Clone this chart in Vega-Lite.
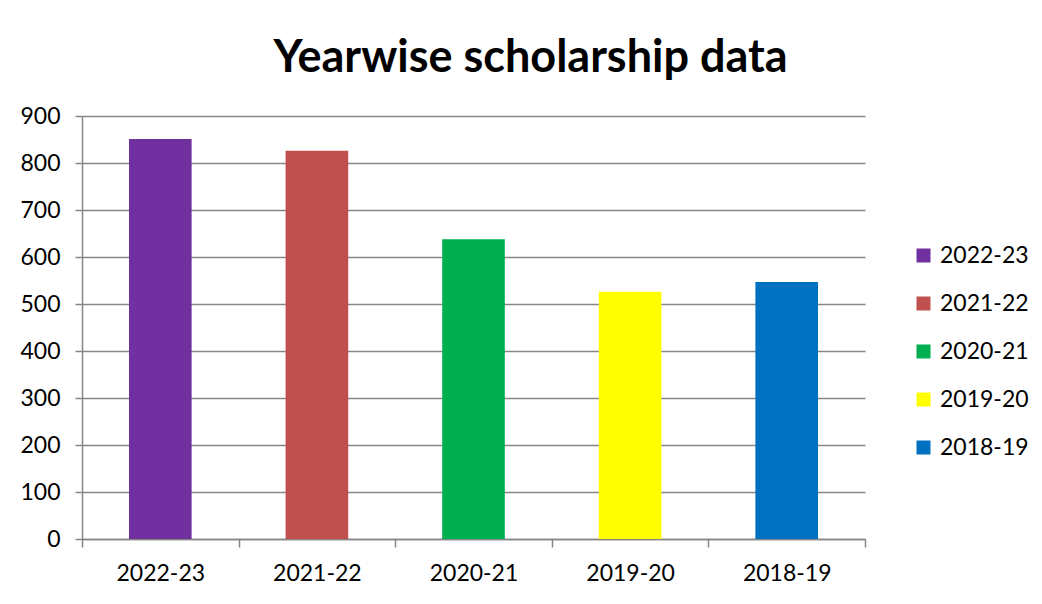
{
  "$schema": "https://vega.github.io/schema/vega-lite/v6.json",
  "width": 783,
  "height": 423,
  "autosize": {"type": "none"},
  "padding": {"left": 82, "top": 116, "right": 177, "bottom": 65},
  "background": "white",
  "title": {
    "text": "Yearwise scholarship data",
    "font": "Lato",
    "fontSize": 45,
    "fontWeight": "bold",
    "color": "black",
    "anchor": "middle",
    "frame": "group",
    "baseline": "alphabetic",
    "offset": -12,
    "dx": 57
  },
  "data": {
    "values": [
      {"year": "2022-23", "count": 851},
      {"year": "2021-22", "count": 826},
      {"year": "2020-21", "count": 638},
      {"year": "2019-20", "count": 526},
      {"year": "2018-19", "count": 547}
    ]
  },
  "mark": {"type": "bar", "width": {"band": 0.4}},
  "encoding": {
    "x": {
      "field": "year",
      "type": "nominal",
      "sort": null,
      "scale": {"paddingInner": 0, "paddingOuter": 0},
      "axis": {
        "title": null,
        "labelAngle": 0,
        "labelFont": "Lato",
        "labelFontSize": 23,
        "labelColor": "black",
        "labelPadding": 15,
        "tickBand": "extent",
        "tickSize": 8,
        "tickColor": "#868686",
        "tickWidth": 1.5,
        "domainColor": "#868686",
        "domainWidth": 1.5,
        "grid": false
      }
    },
    "y": {
      "field": "count",
      "type": "quantitative",
      "scale": {"domain": [0, 900], "nice": false},
      "axis": {
        "title": null,
        "values": [0, 100, 200, 300, 400, 500, 600, 700, 800, 900],
        "labelFont": "Lato",
        "labelFontSize": 23,
        "labelColor": "black",
        "labelPadding": 15,
        "tickSize": 7,
        "tickColor": "#868686",
        "tickWidth": 1.5,
        "domainColor": "#868686",
        "domainWidth": 1.5,
        "grid": true,
        "gridColor": "#868686",
        "gridWidth": 1.5
      }
    },
    "color": {
      "field": "year",
      "type": "nominal",
      "scale": {
        "domain": ["2022-23", "2021-22", "2020-21", "2019-20", "2018-19"],
        "range": ["#7030A0", "#C0504D", "#00B050", "#FFFF00", "#0070C0"]
      },
      "legend": {
        "title": null,
        "orient": "none",
        "legendX": 830,
        "legendY": 128,
        "symbolType": "square",
        "symbolSize": 196,
        "symbolStrokeWidth": 0,
        "labelFont": "Lato",
        "labelFontSize": 23,
        "labelColor": "black",
        "labelOffset": 5,
        "rowPadding": 24
      }
    }
  },
  "config": {
    "view": {"stroke": null}
  }
}
